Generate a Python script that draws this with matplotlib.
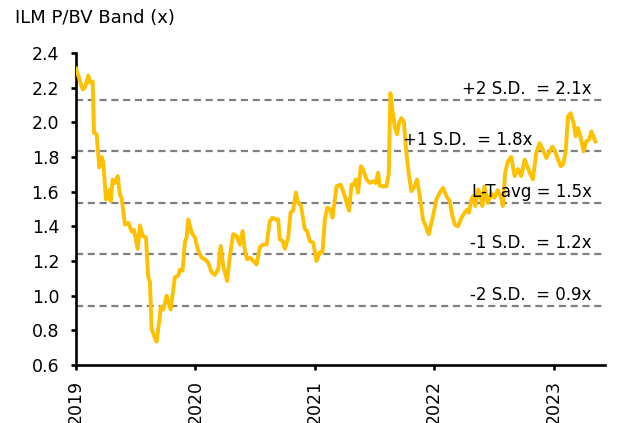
import matplotlib
matplotlib.use("Agg")
import matplotlib.pyplot as plt

plt.rcParams['font.family'] = ['DejaVu Sans']

# Decimal-year time axis and P/BV values
years = [2019.000, 2019.056, 2019.075, 2019.103, 2019.117, 2019.140, 2019.151, 2019.173, 2019.195, 2019.215,
         2019.228, 2019.251, 2019.279, 2019.290, 2019.307, 2019.326, 2019.349, 2019.368, 2019.382, 2019.410,
         2019.438, 2019.466, 2019.485, 2019.516, 2019.536, 2019.558, 2019.586, 2019.605, 2019.619, 2019.633,
         2019.653, 2019.675, 2019.703, 2019.709, 2019.731, 2019.759, 2019.792, 2019.828, 2019.856, 2019.870,
         2019.893, 2019.912, 2019.926, 2019.940, 2019.968, 2019.996, 2020.023, 2020.052, 2020.079, 2020.107,
         2020.136, 2020.163, 2020.191, 2020.211, 2020.233, 2020.266, 2020.289, 2020.316, 2020.345, 2020.372,
         2020.395, 2020.414, 2020.433, 2020.456, 2020.484, 2020.512, 2020.540, 2020.567, 2020.596, 2020.623,
         2020.646, 2020.674, 2020.693, 2020.707, 2020.730, 2020.749, 2020.777, 2020.797, 2020.818, 2020.841,
         2020.860, 2020.883, 2020.916, 2020.935, 2020.958, 2020.986, 2021.014, 2021.042, 2021.064, 2021.084,
         2021.103, 2021.126, 2021.148, 2021.182, 2021.215, 2021.237, 2021.259, 2021.287, 2021.307, 2021.326,
         2021.343, 2021.362, 2021.385, 2021.404, 2021.433, 2021.460, 2021.488, 2021.510, 2021.530, 2021.544,
         2021.572, 2021.600, 2021.619, 2021.633, 2021.650, 2021.669, 2021.689, 2021.705, 2021.725, 2021.745,
         2021.767, 2021.789, 2021.809, 2021.837, 2021.856, 2021.879, 2021.906, 2021.935, 2021.954, 2021.990,
         2022.018, 2022.046, 2022.074, 2022.102, 2022.130, 2022.152, 2022.172, 2022.199, 2022.228, 2022.255,
         2022.274, 2022.291, 2022.311, 2022.325, 2022.345, 2022.367, 2022.387, 2022.403, 2022.420, 2022.448,
         2022.476, 2022.504, 2022.532, 2022.560, 2022.574, 2022.594, 2022.617, 2022.645, 2022.673, 2022.701,
         2022.729, 2022.757, 2022.785, 2022.799, 2022.826, 2022.854, 2022.883, 2022.911, 2022.939, 2022.989,
         2023.008, 2023.031, 2023.059, 2023.078, 2023.100, 2023.120, 2023.142, 2023.167, 2023.184, 2023.203,
         2023.223, 2023.251, 2023.274, 2023.296, 2023.316, 2023.349]

pbv = [2.31, 2.19, 2.20, 2.27, 2.23, 2.235, 1.94, 1.93, 1.74, 1.80,
       1.77, 1.555, 1.61, 1.545, 1.67, 1.65, 1.69, 1.58, 1.565, 1.41,
       1.42, 1.37, 1.38, 1.27, 1.405, 1.345, 1.335, 1.105, 1.08, 0.81,
       0.77, 0.735, 0.885, 0.935, 0.92, 1.00, 0.92, 1.105, 1.115, 1.15,
       1.145, 1.31, 1.335, 1.44, 1.365, 1.335, 1.26, 1.22, 1.21, 1.19,
       1.135, 1.12, 1.15, 1.287, 1.17, 1.085, 1.23, 1.355, 1.345, 1.295,
       1.373, 1.258, 1.21, 1.22, 1.20, 1.18, 1.28, 1.295, 1.295, 1.43,
       1.45, 1.44, 1.44, 1.325, 1.315, 1.27, 1.335, 1.48, 1.49, 1.595,
       1.537, 1.52, 1.385, 1.373, 1.315, 1.306, 1.20, 1.25, 1.25, 1.44,
       1.507, 1.50, 1.45, 1.632, 1.64, 1.603, 1.555, 1.49, 1.64, 1.64,
       1.67, 1.594, 1.747, 1.728, 1.67, 1.65, 1.66, 1.65, 1.71, 1.635,
       1.63, 1.632, 1.70, 2.168, 2.07, 1.976, 1.93, 1.996, 2.025, 2.005,
       1.824, 1.69, 1.603, 1.632, 1.67, 1.574, 1.44, 1.39, 1.354, 1.46,
       1.555, 1.594, 1.622, 1.574, 1.545, 1.46, 1.41, 1.40, 1.45, 1.479,
       1.497, 1.479, 1.555, 1.574, 1.517, 1.613, 1.574, 1.517, 1.63, 1.535,
       1.59, 1.565, 1.61, 1.565, 1.517, 1.71, 1.775, 1.80, 1.69, 1.73,
       1.69, 1.785, 1.737, 1.71, 1.67, 1.824, 1.88, 1.84, 1.795, 1.86,
       1.84, 1.795, 1.747, 1.756, 1.824, 2.034, 2.053, 1.996, 1.92, 1.967,
       1.92, 1.833, 1.89, 1.90, 1.948, 1.89]

band_values = [2.13, 1.835, 1.535, 1.24, 0.94]
band_labels = ["+2 S.D.  = 2.1x", "+1 S.D.  = 1.8x", "L-T avg = 1.5x", "-1 S.D.  = 1.2x", "-2 S.D.  = 0.9x"]
band_label_x = [2023.318, 2022.824, 2023.318, 2023.318, 2023.318]

year_ticks = [2019, 2020, 2021, 2022, 2023]
y_ticks = [0.6, 0.8, 1.0, 1.2, 1.4, 1.6, 1.8, 2.0, 2.2, 2.4]

fig = plt.figure(figsize=(6.43, 4.23), dpi=100)
ax = fig.add_axes([76/643, 1-365/423, (605-76)/643, (365-53)/423])

for v in band_values:
    ax.axhline(v, color='#808080', lw=1.6, ls=(0, (3.2, 2.1)), zorder=1)

ax.plot(years, pbv, color='#FFC000', lw=2.8, zorder=3, solid_joinstyle='round')

for lab, v, lx in zip(band_labels, band_values, band_label_x):
    ax.text(lx, v + 0.035, lab, ha='right', va='baseline', fontsize=12, color='black', zorder=4)

ax.set_xlim(2019.0, 2023.43)
ax.set_ylim(0.6, 2.4)
ax.set_xticks(year_ticks)
ax.set_xticklabels([str(y) for y in year_ticks], rotation=90, fontsize=12.5)
ax.set_yticks(y_ticks)
ax.set_yticklabels([f"{v:.1f}" for v in y_ticks], fontsize=12.5)

for s in ['top', 'right']:
    ax.spines[s].set_visible(False)
for s in ['left', 'bottom']:
    ax.spines[s].set_linewidth(1.9)
    ax.spines[s].set_color('black')
ax.tick_params(axis='both', direction='out', length=3.6, width=1.9, colors='black')
ax.tick_params(axis='y', pad=8.5)
ax.tick_params(axis='x', pad=7)

fig.text(15/643, 1-18/423, "ILM P/BV Band (x)", fontsize=13, va='center', ha='left')

fig.savefig("out.png", dpi=100)
